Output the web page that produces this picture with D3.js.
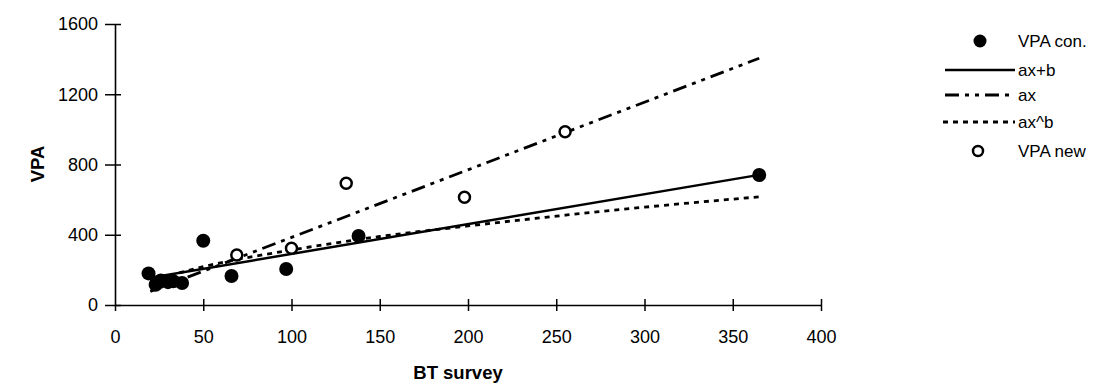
<!DOCTYPE html>
<html><head><meta charset="utf-8">
<script src="https://cdn.jsdelivr.net/npm/d3@7/dist/d3.min.js"></script>
<style>body{margin:0;background:#fff;}svg text{font-family:"Liberation Sans",Arial,sans-serif;}</style>
</head><body><svg id="c" width="1093" height="387"></svg>
<script>
// Data
const vpaConX = [19, 23, 26, 30, 33, 38, 50, 66, 97, 138, 365];
const vpaConY = [180, 115, 140, 130, 135, 125, 366, 165, 205, 393, 740];
const vpaNewX = [69, 100, 131, 198, 255];
const vpaNewY = [285, 323, 693, 613, 987];
// trend lines
const linX = [20, 365];
const linY = [155, 741];
const propX = [20, 365];
const propY = [77, 1405];
const powX = [20, 50, 100, 150, 200, 250, 300, 365];
const powY = [136, 218, 313, 390, 450, 506, 557, 616];
const xTicks = [0, 50, 100, 150, 200, 250, 300, 350, 400];
const yTicks = [0, 400, 800, 1200, 1600];
const legendLabels = ["VPA con.", "ax+b", "ax", "ax^b", "VPA new"];

const svg = d3.select("#c");
const x = d3.scaleLinear().domain([0, 400]).range([115, 821]);
const y = d3.scaleLinear().domain([0, 1600]).range([305, 24]);
const fmt = d3.format("d");

const xAxis = svg.append("g").attr("transform", `translate(0,${y(0)})`)
  .call(d3.axisBottom(x).tickValues(xTicks).tickFormat(fmt).tickSize(6).tickSizeOuter(0).tickPadding(0));
xAxis.selectAll(".tick line").attr("y1", -6).attr("y2", 6);
xAxis.selectAll("text").attr("dy", "1.75em").style("font-size", "18px").attr("fill", "#000");
const yAxis = svg.append("g").attr("transform", `translate(${x(0)},0)`)
  .call(d3.axisLeft(y).tickValues(yTicks).tickFormat(fmt).tickSize(6).tickSizeOuter(0).tickPadding(0));
yAxis.selectAll(".tick line").attr("x1", -10).attr("x2", 6);
yAxis.selectAll("text").attr("x", -17).style("font-size", "18px").attr("fill", "#000");
svg.selectAll(".domain").attr("stroke", "#000").attr("stroke-width", 1.6);
svg.selectAll(".tick line").attr("stroke", "#000").attr("stroke-width", 1.5);
xAxis.select(".tick line").attr("y1", 0);

svg.append("text").attr("x", 458).attr("y", 379).attr("text-anchor", "middle")
  .style("font-size", "18.5px").style("font-weight", "bold").text("BT survey");
svg.append("text").attr("transform", "translate(44,164) rotate(-90)").attr("text-anchor", "middle")
  .style("font-size", "18.5px").style("font-weight", "bold").text("VPA");

const line = d3.line().x(d => x(d[0])).y(d => y(d[1]));
const curve = d3.line().x(d => x(d[0])).y(d => y(d[1])).curve(d3.curveMonotoneX);
const g = svg.append("g");
g.append("path").datum(d3.zip(linX, linY)).attr("d", line)
  .attr("fill", "none").attr("stroke", "#000").attr("stroke-width", 2.5);
g.append("path").datum(d3.zip(propX, propY)).attr("d", line)
  .attr("fill", "none").attr("stroke", "#000").attr("stroke-width", 2.8).attr("stroke-dasharray", "14,6,4,6,4,6");
g.append("path").datum(d3.zip(powX, powY)).attr("d", curve)
  .attr("fill", "none").attr("stroke", "#000").attr("stroke-width", 2.8).attr("stroke-dasharray", "5,5");

g.selectAll(".con").data(d3.zip(vpaConX, vpaConY)).join("circle")
  .attr("cx", d => x(d[0])).attr("cy", d => y(d[1])).attr("r", 7).attr("fill", "#000");
g.selectAll(".nw").data(d3.zip(vpaNewX, vpaNewY)).join("circle")
  .attr("cx", d => x(d[0])).attr("cy", d => y(d[1])).attr("r", 5.5)
  .attr("fill", "#fff").attr("stroke", "#000").attr("stroke-width", 2.5);

// legend
const lg = svg.append("g");
const ly = [41, 70, 95, 122, 151];
lg.append("circle").attr("cx", 980).attr("cy", ly[0]).attr("r", 6.5).attr("fill", "#000");
lg.append("line").attr("x1", 945).attr("x2", 1015).attr("y1", ly[1]).attr("y2", ly[1]).attr("stroke", "#000").attr("stroke-width", 2.5);
lg.append("line").attr("x1", 945).attr("x2", 1015).attr("y1", ly[2]).attr("y2", ly[2]).attr("stroke", "#000").attr("stroke-width", 2.8).attr("stroke-dasharray", "14,6,4,6,4,6");
lg.append("line").attr("x1", 943).attr("x2", 1015).attr("y1", ly[3]).attr("y2", ly[3]).attr("stroke", "#000").attr("stroke-width", 2.8).attr("stroke-dasharray", "5,5");
lg.append("circle").attr("cx", 978).attr("cy", ly[4]).attr("r", 5).attr("fill", "#fff").attr("stroke", "#000").attr("stroke-width", 2.5);
lg.selectAll("text.l").data(legendLabels).join("text")
  .attr("x", 1018).attr("y", (d, i) => ly[i]).attr("dy", "0.35em")
  .style("font-size", "17px").text(d => d);
</script></body></html>
